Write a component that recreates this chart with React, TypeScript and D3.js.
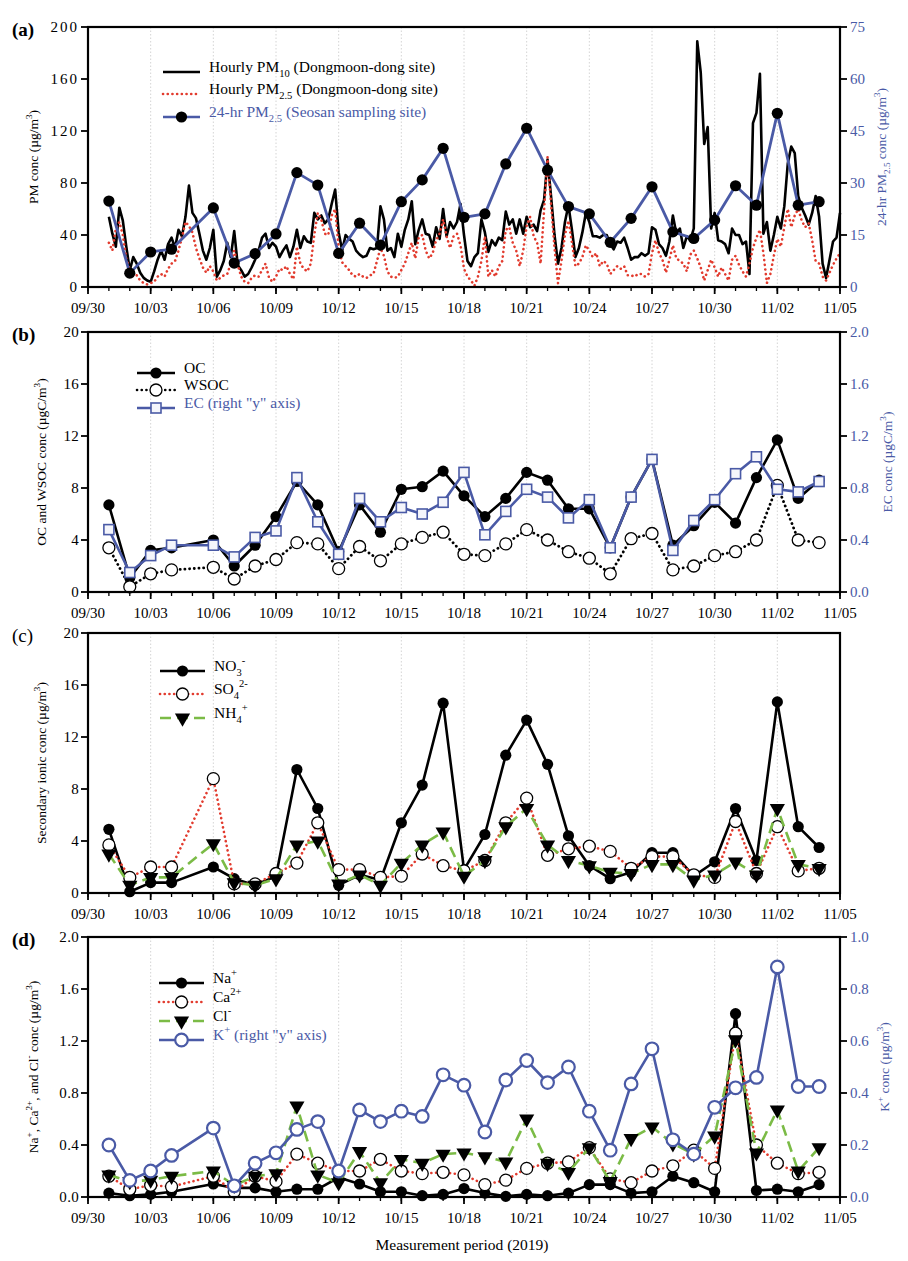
import React from 'react';
import * as d3 from 'd3';

// ---- data (days after 09/30/2019) ----
const START = Date.UTC(2019, 8, 30);
const dayToDate = (d: number) => new Date(START + d * 864e5);

// daily filter samples, 10/05 missing
const sampleDays = [1, 2, 3, 4, 6, 7, 8, 9, 10, 11, 12, 13, 14, 15, 16, 17, 18, 19, 20, 21, 22, 23, 24, 25, 26, 27, 28, 29, 30, 31, 32, 33, 34, 35];

const pm25Daily = [24.8, 4.0, 10.1, 10.9, 22.8, 6.9, 9.6, 15.3, 33.0, 29.4, 9.7, 18.4, 12.1, 24.6, 30.9, 40.0, 20.1, 21.1, 35.5, 45.8, 33.7, 23.2, 21.1, 12.9, 19.8, 28.9, 15.9, 14.0, 19.3, 29.2, 23.6, 50.1, 23.6, 24.6];

const HOURLY_START = 1;
const HOURLY_STEP = 1 / 6;
const pm10Hourly = [
  54, 41, 31, 61, 51, 31,
  13, 23, 18, 11, 7, 5,
  4, 12, 21, 28, 21, 33,
  38, 30, 44, 39, 54, 78,
  57, 53, 41, 28, 21, 30,
  44, 8, 13, 20, 34, 23,
  43, 17, 13, 8, 10, 15,
  21, 28, 38, 41, 30, 34,
  31, 23, 28, 32, 23, 31,
  44, 30, 39, 35, 34, 57,
  52, 55, 49, 52, 64, 75,
  42, 28, 40, 37, 35, 28,
  25, 23, 24, 30, 29, 30,
  62, 52, 28, 30, 23, 41,
  31, 44, 52, 66, 33, 44,
  52, 41, 40, 31, 46, 37,
  60, 39, 50, 45, 50, 64,
  40, 20, 16, 23, 26, 52,
  42, 27, 36, 32, 38, 36,
  58, 48, 52, 41, 52, 41,
  54, 46, 48, 43, 59, 67,
  98, 70, 40, 18, 30, 50,
  63, 44, 23, 30, 42, 57,
  50, 39, 39, 38, 40, 40,
  33, 29, 35, 34, 38, 30,
  21, 23, 23, 26, 24, 26,
  46, 44, 33, 30, 24, 35,
  55, 41, 45, 30, 39, 36,
  45, 189, 165, 110, 123, 45,
  57, 36, 35, 33, 26, 45,
  40, 40, 33, 35, 10, 126,
  134, 164, 41, 50, 28, 40,
  54, 45, 62, 95, 108, 103,
  70, 61, 55, 48, 57, 70,
  54, 18, 7, 21, 35, 38,
  57,
];
const pm25Hourly = [
  34, 28, 45, 50, 40, 22,
  13, 8, 9, 5, 3, 2,
  3, 4, 8, 10, 8, 14,
  18, 20, 28, 38, 50, 47,
  42, 30, 22, 15, 11, 16,
  12, 5, 7, 9, 10, 18,
  28, 17, 8, 4, 3, 7,
  9, 8, 13, 18, 7, 4,
  8, 14, 13, 16, 10, 6,
  31, 18, 14, 12, 18, 40,
  57, 52, 41, 40, 55, 60,
  30, 19, 16, 13, 9, 8,
  10, 8, 7, 9, 10, 20,
  30, 24, 12, 8, 7, 8,
  13, 18, 26, 34, 22, 38,
  40, 28, 22, 26, 36, 41,
  52, 39, 30, 39, 41, 32,
  14, 8, 5, 1, 8, 20,
  39, 8, 13, 8, 16, 20,
  44, 46, 34, 28, 16, 28,
  47, 54, 39, 34, 18, 59,
  100, 64, 30, 3, 20, 40,
  51, 34, 16, 18, 23, 32,
  28, 23, 26, 16, 20, 18,
  10, 13, 16, 14, 16, 9,
  9, 8, 10, 10, 8, 10,
  26, 36, 26, 21, 11, 21,
  32, 22, 20, 18, 12, 25,
  28, 22, 15, 5, 13, 21,
  15, 8, 15, 10, 5, 21,
  24, 17, 12, 8, 18, 30,
  38, 44, 26, 3, 10, 24,
  37, 31, 46, 60, 46, 55,
  60, 51, 46, 49, 36, 20,
  18, 8, 5, 11, 17, 22,
  26,
];
const hourlyDays = pm10Hourly.map((_, i) => HOURLY_START + i * HOURLY_STEP);

const ocValues = [6.7, 1.1, 3.2, 3.4, 4.0, 2.0, 3.6, 5.8, 8.5, 6.7, 3.1, 6.7, 4.6, 7.9, 8.1, 9.3, 7.4, 5.8, 7.2, 9.2, 8.6, 6.4, 6.4, 3.4, 7.3, 10.2, 3.6, 5.1, 6.9, 5.3, 8.8, 11.7, 7.2, 8.6];
const wsocValues = [3.4, 0.4, 1.4, 1.7, 1.9, 1.0, 2.0, 2.5, 3.8, 3.7, 1.8, 3.5, 2.4, 3.7, 4.2, 4.6, 2.9, 2.8, 3.7, 4.8, 4.0, 3.1, 2.6, 1.4, 4.1, 4.5, 1.7, 2.0, 2.8, 3.1, 4.0, 8.2, 4.0, 3.8];
const ecValues = [0.48, 0.15, 0.28, 0.36, 0.36, 0.27, 0.42, 0.47, 0.88, 0.54, 0.29, 0.72, 0.54, 0.65, 0.6, 0.69, 0.92, 0.44, 0.62, 0.79, 0.73, 0.57, 0.71, 0.34, 0.73, 1.02, 0.32, 0.55, 0.71, 0.91, 1.04, 0.79, 0.77, 0.85];

const no3Values = [4.9, 0.1, 0.8, 0.8, 2.0, 1.1, 0.6, 1.3, 9.5, 6.5, 0.6, 1.4, 1.0, 5.4, 8.3, 14.6, 1.8, 4.5, 10.6, 13.3, 9.9, 4.4, 2.1, 1.1, 1.6, 3.1, 3.1, 1.3, 2.4, 6.5, 2.5, 14.7, 5.1, 3.5];
const so4Values = [3.7, 1.2, 2.0, 2.0, 8.8, 0.7, 0.7, 1.5, 2.3, 5.4, 1.8, 1.8, 1.2, 1.3, 3.0, 2.1, 1.7, 2.5, 5.4, 7.3, 2.9, 3.4, 3.6, 3.2, 1.9, 2.8, 2.8, 1.4, 1.2, 5.5, 1.5, 5.1, 1.7, 1.9];
const nh4Values = [3.0, 0.6, 1.2, 1.2, 3.8, 0.8, 0.6, 1.1, 3.7, 4.0, 0.7, 1.4, 0.6, 2.3, 3.7, 4.7, 1.3, 2.5, 5.1, 6.5, 3.7, 2.5, 2.1, 1.6, 1.5, 2.2, 2.2, 1.0, 1.4, 2.4, 1.4, 6.5, 2.2, 1.9];

const naValues = [0.03, 0.01, 0.02, 0.04, 0.1, 0.07, 0.07, 0.04, 0.06, 0.06, 0.15, 0.1, 0.04, 0.04, 0.01, 0.02, 0.065, 0.03, 0.005, 0.02, 0.01, 0.03, 0.095, 0.095, 0.03, 0.04, 0.16, 0.11, 0.04, 1.41, 0.05, 0.06, 0.04, 0.095];
const caValues = [0.16, 0.06, 0.09, 0.08, 0.16, 0.04, 0.16, 0.12, 0.33, 0.26, 0.2, 0.2, 0.29, 0.2, 0.18, 0.19, 0.17, 0.095, 0.13, 0.22, 0.26, 0.27, 0.38, 0.14, 0.11, 0.2, 0.24, 0.36, 0.22, 1.26, 0.4, 0.26, 0.18, 0.19];
const clValues = [0.17, 0.12, 0.13, 0.16, 0.2, 0.09, 0.16, 0.18, 0.7, 0.17, 0.11, 0.35, 0.11, 0.29, 0.26, 0.33, 0.34, 0.31, 0.27, 0.6, 0.26, 0.19, 0.38, 0.12, 0.45, 0.54, 0.41, 0.33, 0.47, 1.21, 0.34, 0.67, 0.2, 0.38];
const kValues = [0.2, 0.064, 0.1, 0.16, 0.265, 0.043, 0.13, 0.17, 0.26, 0.29, 0.1, 0.335, 0.29, 0.33, 0.31, 0.47, 0.43, 0.25, 0.45, 0.525, 0.44, 0.5, 0.33, 0.18, 0.435, 0.57, 0.22, 0.165, 0.345, 0.42, 0.46, 0.885, 0.425, 0.425];

// ---- layout ----
const W = 908;
const H = 1261;
const L = 88;
const R = 840;
const PH = 260;
const FONT = "'Liberation Serif', 'Times New Roman', serif";
const BLUE = '#4a5aa6';
const RED = '#e23b2e';
const GREEN = '#7bbb46';

const x = d3.scaleUtc().domain([dayToDate(0), dayToDate(36)]).range([L, R]);
// labelled ticks every 3 days from 09/30, minor ticks every day
const majorTicks = d3.range(0, 37, 3).map(dayToDate);
const minorTicks = d3.range(0, 37).map(dayToDate);
const fmtDate = d3.utcFormat('%m/%d');

type Part = [string, ('sub' | 'sup')?];
type MarkerKind = 'dot' | 'open' | 'square' | 'tri' | 'ring';

function Rich({ parts, size }: { parts: Part[]; size: number }) {
  let shift = 0;
  return (
    <>
      {parts.map(([t, k], i) => {
        const target = k === 'sub' ? size * 0.3 : k === 'sup' ? -size * 0.42 : 0;
        const dy = target - shift;
        shift = target;
        return (
          <tspan key={i} dy={dy} fontSize={k ? size * 0.68 : size}>
            {t}
          </tspan>
        );
      })}
    </>
  );
}

function Marker({ kind, cx, cy }: { kind: MarkerKind; cx: number; cy: number }) {
  if (kind === 'dot') return <circle cx={cx} cy={cy} r={5.6} fill="#000" />;
  if (kind === 'open') return <circle cx={cx} cy={cy} r={6} fill="#fff" stroke="#000" strokeWidth={1.3} />;
  if (kind === 'ring') return <circle cx={cx} cy={cy} r={6.3} fill="#fff" stroke={BLUE} strokeWidth={2.2} />;
  if (kind === 'square')
    return <rect x={cx - 5} y={cy - 5} width={10} height={10} fill="#f4f5fb" stroke={BLUE} strokeWidth={1.6} />;
  const tri = d3.symbol(d3.symbolTriangle, 100)()!;
  return <path d={tri} transform={`translate(${cx},${cy}) rotate(180)`} fill="#000" />;
}

interface SeriesDef {
  days: number[];
  values: number[];
  side: 'left' | 'right';
  color: string;
  dash?: string;
  width?: number;
  marker?: MarkerKind;
}

interface LegendDef {
  parts: Part[];
  textColor: string;
  color: string;
  dash?: string;
  marker?: MarkerKind;
}

interface PanelProps {
  label: string;
  labelBold?: boolean;
  top: number;
  leftDomain: [number, number];
  leftTicks: number[];
  leftFmt: (v: number) => string;
  leftSpacing?: number;
  rightDomain?: [number, number];
  rightTicks?: number[];
  rightFmt?: (v: number) => string;
  leftTitle: Part[];
  leftTitleX: number;
  rightTitle?: Part[];
  rightTitleX?: number;
  series: SeriesDef[];
  legend: LegendDef[];
  legendX: [number, number];
  legendYs: number[];
}

function Panel(p: PanelProps) {
  const bottom = p.top + PH;
  const yL = d3.scaleLinear().domain(p.leftDomain).range([bottom, p.top]);
  const yR = p.rightDomain ? d3.scaleLinear().domain(p.rightDomain).range([bottom, p.top]) : null;
  const midY = p.top + PH / 2;

  return (
    <g>
      {/* grid */}
      {majorTicks.slice(1, -1).map((d, i) => (
        <line key={i} x1={x(d)} x2={x(d)} y1={p.top} y2={bottom} stroke="#c9c9c9" strokeWidth={0.8} strokeDasharray="1.5,2" />
      ))}

      {/* series */}
      {p.series.map((s, si) => {
        const y = s.side === 'left' ? yL : yR!;
        const line = d3
          .line<number>()
          .x((_, i) => x(dayToDate(s.days[i])))
          .y((v) => y(v));
        return (
          <g key={si}>
            <path
              d={line(s.values)!}
              fill="none"
              stroke={s.color}
              strokeWidth={s.width ?? 2.6}
              strokeDasharray={s.dash}
              strokeLinecap={s.dash && s.dash.startsWith('0') ? 'round' : 'butt'}
              strokeLinejoin="round"
            />
            {s.marker &&
              s.values.map((v, i) => <Marker key={i} kind={s.marker!} cx={x(dayToDate(s.days[i]))} cy={y(v)} />)}
          </g>
        );
      })}

      {/* frame */}
      <rect x={L} y={p.top} width={R - L} height={PH} fill="none" stroke="#000" strokeWidth={2.2} />

      {/* x ticks */}
      {minorTicks.map((d, i) => (
        <line key={i} x1={x(d)} x2={x(d)} y1={bottom} y2={bottom + 4} stroke="#000" strokeWidth={1.3} />
      ))}
      {majorTicks.map((d, i) => (
        <g key={i}>
          <line x1={x(d)} x2={x(d)} y1={bottom} y2={bottom + 7} stroke="#000" strokeWidth={1.8} />
          <text x={x(d)} y={bottom + 26} textAnchor="middle" fontSize={15}>
            {fmtDate(d)}
          </text>
        </g>
      ))}

      {/* left y */}
      {p.leftTicks.map((v, i) => (
        <g key={i}>
          <line x1={L - 7} x2={L} y1={yL(v)} y2={yL(v)} stroke="#000" strokeWidth={1.8} />
          <text x={L - 9} y={yL(v)} dy="0.35em" textAnchor="end" fontSize={15} letterSpacing={p.leftSpacing ?? 0.3}>
            {p.leftFmt(v)}
          </text>
        </g>
      ))}
      <text transform={`translate(${p.leftTitleX},${midY}) rotate(-90)`} textAnchor="middle" fontSize={13.5}>
        <Rich parts={p.leftTitle} size={13.5} />
      </text>

      {/* right y */}
      {yR &&
        p.rightTicks!.map((v, i) => (
          <g key={i}>
            <line x1={R} x2={R + 7} y1={yR(v)} y2={yR(v)} stroke="#000" strokeWidth={1.8} />
            <text x={R + 10} y={yR(v)} dy="0.35em" fontSize={15} fill={BLUE}>
              {p.rightFmt!(v)}
            </text>
          </g>
        ))}
      {p.rightTitle && (
        <text
          transform={`translate(${p.rightTitleX},${midY}) rotate(-90)`}
          textAnchor="middle"
          fontSize={13.5}
          fill={BLUE}
        >
          <Rich parts={p.rightTitle} size={13.5} />
        </text>
      )}

      {/* legend */}
      {p.legend.map((lg, i) => {
        const ly = p.legendYs[i];
        const [x0, x1] = p.legendX;
        return (
          <g key={i}>
            <line
              x1={x0}
              x2={x1}
              y1={ly}
              y2={ly}
              stroke={lg.color}
              strokeWidth={2.6}
              strokeDasharray={lg.dash}
              strokeLinecap={lg.dash && lg.dash.startsWith('0') ? 'round' : 'butt'}
            />
            {lg.marker && <Marker kind={lg.marker} cx={(x0 + x1) / 2} cy={ly} />}
            <text x={x1 + 9} y={ly} dy="0.35em" fontSize={15.5} fill={lg.textColor}>
              <Rich parts={lg.parts} size={15.5} />
            </text>
          </g>
        );
      })}

      {/* panel label */}
      <text x={12} y={p.top + 9} fontSize={19} fontWeight={p.labelBold === false ? 'normal' : 'bold'}>
        {p.label}
      </text>
    </g>
  );
}

const fmtInt = d3.format('d');
const fmt1 = d3.format('.1f');
const DOTTED = '0.1,4.6';
const DASHED = '11,6';

export default function App() {
  return (
    <svg
      width={W}
      height={H}
      viewBox={`0 0 ${W} ${H}`}
      style={{ position: 'absolute', left: 0, top: 0, background: '#fff' }}
      fontFamily={FONT}
    >
      <Panel
        label="(a)"
        top={27}
        leftDomain={[0, 200]}
        leftTicks={d3.range(0, 201, 40)}
        leftFmt={fmtInt}
        leftSpacing={2}
        rightDomain={[0, 75]}
        rightTicks={d3.range(0, 76, 15)}
        rightFmt={fmtInt}
        leftTitle={[['PM conc (µg/m'], ['3', 'sup'], [')']]}
        leftTitleX={38}
        rightTitle={[['24-hr PM'], ['2.5', 'sub'], [' conc (µg/m'], ['3', 'sup'], [')']]}
        rightTitleX={886}
        series={[
          { days: hourlyDays, values: pm10Hourly, side: 'left', color: '#000', width: 2.6 },
          { days: hourlyDays, values: pm25Hourly, side: 'left', color: RED, dash: DOTTED, width: 2.6 },
          { days: sampleDays, values: pm25Daily, side: 'right', color: BLUE, width: 2.8, marker: 'dot' },
        ]}
        legend={[
          { parts: [['Hourly PM'], ['10', 'sub'], [' (Dongmoon-dong site)']], textColor: '#000', color: '#000' },
          { parts: [['Hourly PM'], ['2.5', 'sub'], [' (Dongmoon-dong site)']], textColor: '#000', color: RED, dash: DOTTED },
          { parts: [['24-hr PM'], ['2.5', 'sub'], [' (Seosan sampling site)']], textColor: BLUE, color: BLUE, marker: 'dot' },
        ]}
        legendX={[163, 200]}
        legendYs={[72, 94, 117]}
      />
      <Panel
        label="(b)"
        top={332}
        leftDomain={[0, 20]}
        leftTicks={d3.range(0, 21, 4)}
        leftFmt={fmtInt}
        rightDomain={[0, 2]}
        rightTicks={d3.range(0, 2.01, 0.4)}
        rightFmt={fmt1}
        leftTitle={[['OC and WSOC conc (µgC/m'], ['3', 'sup'], [')']]}
        leftTitleX={46}
        rightTitle={[['EC conc (µgC/m'], ['3', 'sup'], [')']]}
        rightTitleX={892}
        series={[
          { days: sampleDays, values: ocValues, side: 'left', color: '#000', marker: 'dot' },
          { days: sampleDays, values: wsocValues, side: 'left', color: '#000', dash: DOTTED, width: 2.8, marker: 'open' },
          { days: sampleDays, values: ecValues, side: 'right', color: BLUE, marker: 'square' },
        ]}
        legend={[
          { parts: [['OC']], textColor: '#000', color: '#000', marker: 'dot' },
          { parts: [['WSOC']], textColor: '#000', color: '#000', dash: DOTTED, marker: 'open' },
          { parts: [['EC (right "y" axis)']], textColor: BLUE, color: BLUE, marker: 'square' },
        ]}
        legendX={[137, 175]}
        legendYs={[373, 390, 408]}
      />
      <Panel
        label="(c)"
        labelBold={false}
        top={633}
        leftDomain={[0, 20]}
        leftTicks={d3.range(0, 21, 4)}
        leftFmt={fmtInt}
        leftTitle={[['Secondary ionic conc (µg/m'], ['3', 'sup'], [')']]}
        leftTitleX={46}
        series={[
          { days: sampleDays, values: no3Values, side: 'left', color: '#000', marker: 'dot' },
          { days: sampleDays, values: so4Values, side: 'left', color: RED, dash: DOTTED, marker: 'open' },
          { days: sampleDays, values: nh4Values, side: 'left', color: GREEN, dash: DASHED, marker: 'tri' },
        ]}
        legend={[
          { parts: [['NO'], ['3', 'sub'], ['-', 'sup']], textColor: '#000', color: '#000', marker: 'dot' },
          { parts: [['SO'], ['4', 'sub'], ['2-', 'sup']], textColor: '#000', color: RED, dash: DOTTED, marker: 'open' },
          { parts: [['NH'], ['4', 'sub'], ['+', 'sup']], textColor: '#000', color: GREEN, dash: DASHED, marker: 'tri' },
        ]}
        legendX={[160, 205]}
        legendYs={[671, 694, 718]}
      />
      <Panel
        label="(d)"
        top={937}
        leftDomain={[0, 2]}
        leftTicks={d3.range(0, 2.01, 0.4)}
        leftFmt={fmt1}
        rightDomain={[0, 1]}
        rightTicks={d3.range(0, 1.01, 0.2)}
        rightFmt={fmt1}
        leftTitle={[['Na'], ['+', 'sup'], [', Ca'], ['2+', 'sup'], [', and Cl'], ['-', 'sup'], [' conc (µg/m'], ['3', 'sup'], [')']]}
        leftTitleX={38}
        rightTitle={[['K'], ['+', 'sup'], [' conc (µg/m'], ['3', 'sup'], [')']]}
        rightTitleX={889}
        series={[
          { days: sampleDays, values: naValues, side: 'left', color: '#000', marker: 'dot' },
          { days: sampleDays, values: caValues, side: 'left', color: RED, dash: DOTTED, marker: 'open' },
          { days: sampleDays, values: clValues, side: 'left', color: GREEN, dash: DASHED, marker: 'tri' },
          { days: sampleDays, values: kValues, side: 'right', color: BLUE, marker: 'ring' },
        ]}
        legend={[
          { parts: [['Na'], ['+', 'sup']], textColor: '#000', color: '#000', marker: 'dot' },
          { parts: [['Ca'], ['2+', 'sup']], textColor: '#000', color: RED, dash: DOTTED, marker: 'open' },
          { parts: [['Cl'], ['-', 'sup']], textColor: '#000', color: GREEN, dash: DASHED, marker: 'tri' },
          { parts: [['K'], ['+', 'sup'], [' (right "y" axis)']], textColor: BLUE, color: BLUE, marker: 'ring' },
        ]}
        legendX={[159, 204]}
        legendYs={[983, 1002, 1021, 1040]}
      />
      <text x={462} y={1250} textAnchor="middle" fontSize={15.5}>
        Measurement period (2019)
      </text>
    </svg>
  );
}
